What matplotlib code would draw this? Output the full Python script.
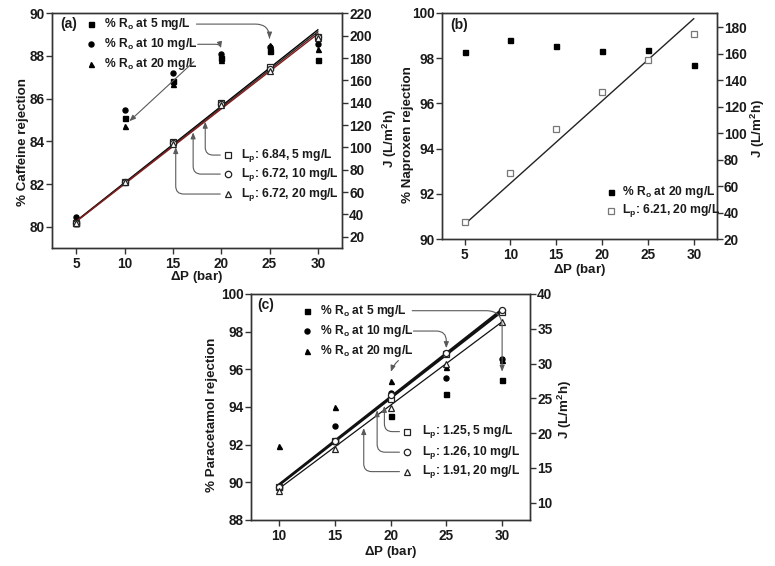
import matplotlib
matplotlib.use('Agg')
import matplotlib.pyplot as plt
import numpy as np

plt.rcParams['font.family'] = ['Liberation Sans', 'DejaVu Sans']
plt.rcParams['font.weight'] = 'bold'
plt.rcParams['axes.labelweight'] = 'bold'
plt.rcParams['mathtext.default'] = 'regular'

# ---------------- data ----------------
conc_labels = ['5', '10', '20']

# panel (a) caffeine
pressure_a = [5, 10, 15, 20, 25, 30]
rej_a_5 = [80.15, 85.10, 86.84, 87.90, 88.25, 87.80]
rej_a_10 = [80.45, 85.46, 87.21, 88.09, 88.40, 88.56]
rej_a_20 = [80.15, 84.74, 86.68, 87.81, 88.50, 88.31]
flux_a_5 = [32.5, 69.5, 105.2, 140.1, 172.3, 198.8]
flux_a_10 = [32.3, 69.3, 104.0, 138.5, 170.0, 198.5]
flux_a_20 = [32.0, 69.0, 102.9, 138.0, 168.7, 198.3]
lp_a_line = [6.84, 6.78, 6.72]
lp_a_labels = ['6.84', '6.72', '6.72']

# panel (b) naproxen
pressure_b = [5, 10, 15, 20, 25, 30]
rej_b = [98.28, 98.78, 98.52, 98.32, 98.38, 97.69]
flux_b = [33.0, 69.9, 103.0, 131.3, 155.3, 174.6]
lp_b_line = 6.21
lp_b_label = '6.21'

# panel (c) paracetamol
pressure_c = [10, 15, 20, 25, 30]
rej_c_5 = [89.77, 92.20, 93.54, 94.67, 95.43]
rej_c_10 = [89.77, 92.99, 94.73, 95.55, 96.53]
rej_c_20 = [91.93, 94.02, 95.40, 96.10, 96.50]
flux_c_5 = [12.3, 18.9, 24.96, 31.4, 37.4]
flux_c_10 = [12.3, 18.9, 25.43, 31.55, 37.75]
flux_c_20 = [11.7, 17.65, 23.67, 29.97, 35.93]
lp_c_line = [1.25, 1.26, 1.20]
lp_c_labels = ['1.25', '1.26', '1.91']

# ---------------- style ----------------
TXT = '#1a1a1a'
ARR = '#5a5a5a'
filled_markers = ['s', 'o', '^']
hollow_markers = ['s', 'o', '^']
TICK_FS = 9.8
LAB_FS = 9.6
LEG_FS = 8.7

fig = plt.figure(figsize=(7.75, 5.66), dpi=100)


def style_axes(ax, ax2):
    for a in (ax, ax2):
        for s in a.spines.values():
            s.set_linewidth(1.0)
            s.set_color('#333333')
        a.tick_params(direction='out', length=4, width=1, labelsize=TICK_FS,
                      colors='#333333', labelcolor=TXT, pad=1.2)
    ax.tick_params(axis='x', pad=2.5)


def place_labels(ax, ax2, xl_y, yl_x, yl_y, yr_x, yr_y):
    ax.xaxis.set_label_coords(0.5, xl_y)
    ax.yaxis.set_label_coords(yl_x, yl_y)
    ax2.yaxis.set_label_coords(yr_x, yr_y)


def arrowprops(style, shrinkA=1, shrinkB=1):
    return dict(arrowstyle='-|>,head_length=0.45,head_width=0.18',
                color=ARR, lw=0.8, connectionstyle=style,
                shrinkA=shrinkA, shrinkB=shrinkB, mutation_scale=8)


def legend_rows(ax, x_mark, x_text, ys, markers, labels, filled=True, fs=LEG_FS,
                edge='black', ms=4):
    texts = []
    for y, m, lab in zip(ys, markers, labels):
        if filled:
            ax.plot([x_mark], [y], marker=m, ms=ms, color='black', ls='none',
                    transform=ax.transAxes, clip_on=False)
        else:
            ax.plot([x_mark], [y], marker=m, ms=ms + 0.6, mfc='white', mec=edge, mew=0.9,
                    ls='none', transform=ax.transAxes, clip_on=False)
        t = ax.text(x_text, y, lab, transform=ax.transAxes, fontsize=fs,
                    va='center', ha='left', color=TXT)
        texts.append(t)
    return texts


ylab_r = r'J (L/m$^{2}$h)'
xlab = r'$\Delta$P (bar)'

# ======================= panel (a) =======================
axa = fig.add_axes([0.0671, 0.5618, 0.3742, 0.4147])
axa2 = axa.twinx()
for rej, m in zip([rej_a_5, rej_a_10, rej_a_20], filled_markers):
    axa.plot(pressure_a, rej, marker=m, ms=3.6, color='black', ls='none')
xa = np.array([pressure_a[0], pressure_a[-1]])
line_cols_a = ['black', '#2a2a2a', '#8b1a1a']
for lp, c in zip(lp_a_line, line_cols_a):
    axa2.plot(xa, lp * xa, color=c, lw=1.0)
for fl, m in zip([flux_a_5, flux_a_10, flux_a_20], hollow_markers):
    axa2.plot(pressure_a, fl, marker=m, ms=4.4, mfc='white', mec='#222222', mew=0.9,
              ls='none', zorder=3)
axa.set_xlim(2.5, 32.5)
axa.set_ylim(79, 90)
axa2.set_ylim(10, 220)
axa.set_xticks(pressure_a)
axa.set_yticks([80, 82, 84, 86, 88, 90])
axa2.set_yticks(np.arange(20, 221, 20))
axa.set_xlabel(xlab, fontsize=LAB_FS, color=TXT)
axa.set_ylabel('% Caffeine rejection', fontsize=LAB_FS, color=TXT)
axa2.set_ylabel(ylab_r, fontsize=LAB_FS, color=TXT)
style_axes(axa, axa2)
place_labels(axa, axa2, -0.09, -0.08, 0.452, 1.134, 0.467)
axa2.text(0.028, 0.954, '(a)', transform=axa2.transAxes, fontsize=10, va='center', color=TXT)

ro_labels = [r'% R$_{o}$ at %s mg/L'.replace('%s', c) for c in conc_labels]
ta = legend_rows(axa2, 0.133, 0.180, [0.954, 0.868, 0.784], filled_markers, ro_labels,
                 filled=True, ms=3.6)
axa2.annotate('', xy=(pressure_a[4], 88.75), xycoords=axa.transData,
              xytext=(1.0, 0.5), textcoords=ta[0],
              arrowprops=arrowprops('angle,angleA=0,angleB=90,rad=14', shrinkA=4))
axa2.annotate('', xy=(pressure_a[3], 88.3), xycoords=axa.transData,
              xytext=(1.0, 0.5), textcoords=ta[1],
              arrowprops=arrowprops('angle,angleA=0,angleB=90,rad=6', shrinkA=0))
axa2.annotate('', xy=(10.4, 84.9), xycoords=axa.transData,
              xytext=(0.96, 0.65), textcoords=ta[2],
              arrowprops=arrowprops('arc3,rad=0', shrinkA=0))

lp_labels_a = [r'L$_{p}$: %s, %s mg/L' % (l, c) for l, c in zip(lp_a_labels, conc_labels)]
ya = [0.396, 0.315, 0.230]
legend_rows(axa2, 0.608, 0.652, ya, hollow_markers, lp_labels_a, filled=False,
            edge='#222222', ms=4)
targets_a = [18.35, 17.1, 15.3]
for y, xt, lp in zip(ya, targets_a, lp_a_line):
    axa2.annotate('', xy=(xt, lp * xt), xycoords=axa2.transData,
                  xytext=(0.585, y), textcoords=axa2.transAxes,
                  arrowprops=arrowprops('angle,angleA=0,angleB=90,rad=8', shrinkB=2))

# ======================= panel (b) =======================
axb = fig.add_axes([0.5699, 0.5777, 0.3548, 0.3995])
axb2 = axb.twinx()
axb.plot(pressure_b, rej_b, marker='s', ms=3.6, color='black', ls='none')
xb = np.array([pressure_b[0], pressure_b[-1]])
axb2.plot(xb, lp_b_line * xb, color='#222222', lw=1.0)
axb2.plot(pressure_b, flux_b, marker='s', ms=4.3, mfc='white', mec='#777777', mew=0.9,
          ls='none', zorder=3)
axb.set_xlim(2.5, 32.5)
axb.set_ylim(90, 100)
axb2.set_ylim(20, 190.7)
axb.set_xticks(pressure_b)
axb.set_yticks([90, 92, 94, 96, 98, 100])
axb2.set_yticks(np.arange(20, 181, 20))
axb.set_xlabel(xlab, fontsize=LAB_FS, color=TXT)
axb.set_ylabel('% Naproxen rejection', fontsize=LAB_FS, color=TXT)
axb2.set_ylabel(ylab_r, fontsize=LAB_FS, color=TXT)
style_axes(axb, axb2)
place_labels(axb, axb2, -0.102, -0.100, 0.464, 1.118, 0.49)
axb2.text(0.03, 0.948, '(b)', transform=axb2.transAxes, fontsize=10, va='center', color=TXT)
axb2.plot([0.615], [0.2066], marker='s', ms=3.6, color='black', transform=axb2.transAxes,
          clip_on=False)
axb2.text(0.655, 0.2066, r'% R$_{o}$ at 20 mg/L', transform=axb2.transAxes, fontsize=LEG_FS,
          va='center', color=TXT)
axb2.plot([0.615], [0.125], marker='s', ms=4.3, mfc='white', mec='#777777', mew=0.9,
          transform=axb2.transAxes, clip_on=False)
axb2.text(0.655, 0.125, r'L$_{p}$: %s, 20 mg/L' % lp_b_label, transform=axb2.transAxes,
          fontsize=LEG_FS, va='center', color=TXT)

# ======================= panel (c) =======================
axc = fig.add_axes([0.3239, 0.0813, 0.36, 0.3993])
axc2 = axc.twinx()
for rej, m in zip([rej_c_5, rej_c_10, rej_c_20], filled_markers):
    axc.plot(pressure_c, rej, marker=m, ms=3.6, color='black', ls='none')
xc = np.array([pressure_c[0], pressure_c[-1]])
for lp, lw in zip(lp_c_line, [1.6, 1.6, 0.9]):
    axc2.plot(xc, lp * xc, color='#111111', lw=lw)
for fl, m in zip([flux_c_5, flux_c_10, flux_c_20], hollow_markers):
    axc2.plot(pressure_c, fl, marker=m, ms=4.4, mfc='white', mec='#222222', mew=0.9,
              ls='none', zorder=3)
axc.set_xlim(7.5, 32.5)
axc.set_ylim(88, 100)
axc2.set_ylim(7.5, 40)
axc.set_xticks(pressure_c)
axc.set_yticks([88, 90, 92, 94, 96, 98, 100])
axc2.set_yticks([10, 15, 20, 25, 30, 35, 40])
axc.set_xlabel(xlab, fontsize=LAB_FS, color=TXT)
axc.set_ylabel('% Paracetamol rejection', fontsize=LAB_FS, color=TXT)
axc2.set_ylabel(ylab_r, fontsize=LAB_FS, color=TXT)
style_axes(axc, axc2)
place_labels(axc, axc2, -0.106, -0.118, 0.465, 1.093, 0.487)
axc2.text(0.022, 0.951, '(c)', transform=axc2.transAxes, fontsize=10, va='center', color=TXT)

tc = legend_rows(axc2, 0.202, 0.247, [0.926, 0.836, 0.748], filled_markers, ro_labels,
                 filled=True, ms=3.6)
axc2.annotate('', xy=(pressure_c[4], 95.8), xycoords=axc.transData,
              xytext=(1.0, 0.5), textcoords=tc[0],
              arrowprops=arrowprops('angle,angleA=0,angleB=90,rad=16', shrinkA=4))
axc2.annotate('', xy=(pressure_c[3], 97.05), xycoords=axc.transData,
              xytext=(1.0, 0.5), textcoords=tc[1],
              arrowprops=arrowprops('angle,angleA=0,angleB=90,rad=10', shrinkA=0))
axc2.annotate('', xy=(pressure_c[2], 95.8), xycoords=axc.transData,
              xytext=(0.84, -0.1), textcoords=tc[2],
              arrowprops=arrowprops('arc3,rad=0.15', shrinkA=0))

lp_labels_c = [r'L$_{p}$: %s, %s mg/L' % (l, c) for l, c in zip(lp_c_labels, conc_labels)]
yc = [0.391, 0.300, 0.214]
legend_rows(axc2, 0.558, 0.612, yc, hollow_markers, lp_labels_c, filled=False,
            edge='#222222', ms=4)
targets_c = [19.45, 18.8, 17.6]
for y, xt, lp in zip(yc, targets_c, lp_c_line):
    axc2.annotate('', xy=(xt, lp * xt), xycoords=axc2.transData,
                  xytext=(0.537, y), textcoords=axc2.transAxes,
                  arrowprops=arrowprops('angle,angleA=0,angleB=90,rad=8', shrinkB=2))

fig.savefig('out.png', dpi=100)
